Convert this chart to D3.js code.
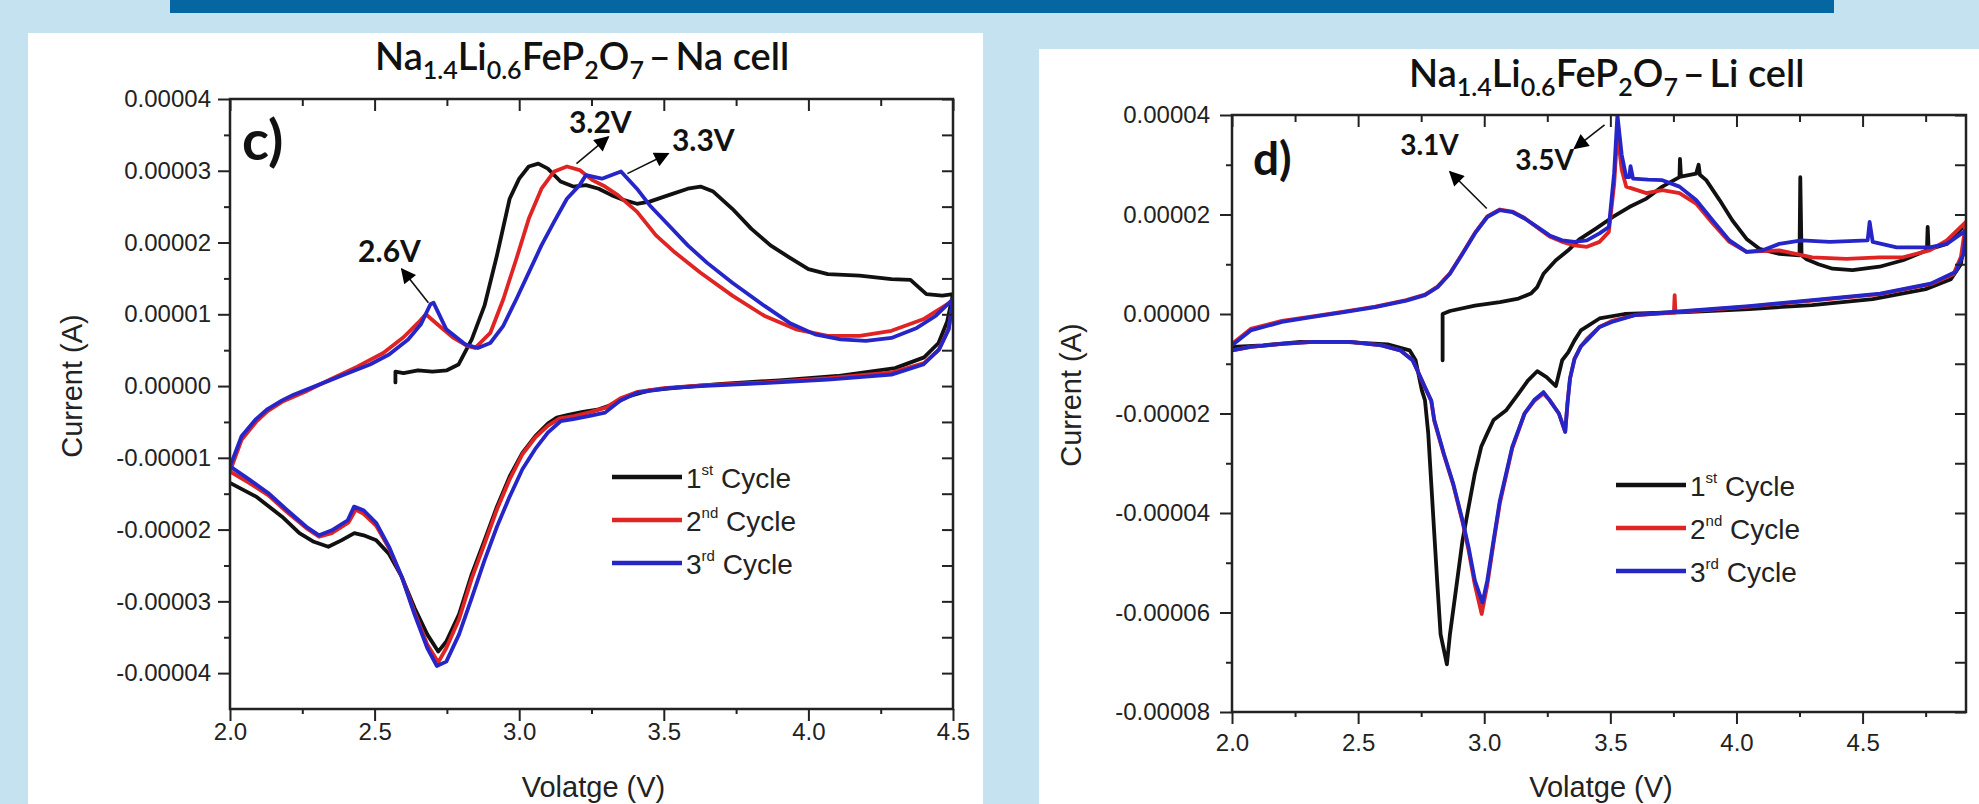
<!DOCTYPE html>
<html>
<head>
<meta charset="utf-8">
<script src="https://cdn.jsdelivr.net/npm/d3@7"></script>
<style>
html, body { margin: 0; padding: 0; background: #c5e2f1; overflow: hidden; }
svg { display: block; }
</style>
</head>
<body>
<svg id="main" width="1979" height="804"></svg>
<script>
// voltage in V, current in units of 1e-5 A

// ---- Na cell (panel c) ----
const naCycle1 = [
    [2.572, 0.05], [2.572, 0.2], [2.60, 0.18], [2.65, 0.22], [2.70, 0.2], [2.75, 0.22], [2.79, 0.3],
    [2.836, 0.65], [2.88, 1.12], [2.923, 1.82], [2.967, 2.61], [3.0, 2.89], [3.033, 3.06], [3.066, 3.1],
    [3.099, 3.03], [3.143, 2.85], [3.187, 2.78], [3.231, 2.8], [3.275, 2.75], [3.319, 2.66], [3.363, 2.59],
    [3.407, 2.54], [3.451, 2.57], [3.517, 2.66], [3.583, 2.75], [3.627, 2.78], [3.671, 2.71], [3.737, 2.47],
    [3.803, 2.19], [3.869, 1.96], [3.935, 1.79], [4.0, 1.63], [4.067, 1.56], [4.177, 1.54], [4.287, 1.49],
    [4.353, 1.48], [4.375, 1.4], [4.408, 1.28], [4.463, 1.26], [4.5, 1.28],
    [4.48, 0.9], [4.45, 0.6], [4.40, 0.4], [4.30, 0.25], [4.10, 0.14], [3.90, 0.08], [3.70, 0.03],
    [3.55, -0.02], [3.45, -0.06], [3.38, -0.14], [3.32, -0.26], [3.27, -0.33], [3.22, -0.36], [3.17, -0.4],
    [3.13, -0.44], [3.10, -0.52], [3.055, -0.7], [3.011, -0.93], [2.967, -1.26], [2.923, -1.68], [2.88, -2.15],
    [2.836, -2.62], [2.792, -3.18], [2.748, -3.56], [2.72, -3.7], [2.682, -3.46], [2.638, -3.09], [2.594, -2.66],
    [2.55, -2.34], [2.506, -2.15], [2.462, -2.08], [2.43, -2.05], [2.385, -2.15], [2.34, -2.24], [2.29, -2.17],
    [2.24, -2.05], [2.18, -1.82], [2.09, -1.54], [2.0, -1.35]
];
const naCycle2 = [
    [2.0, -1.19], [2.04, -0.75], [2.09, -0.5], [2.13, -0.35], [2.18, -0.22], [2.26, -0.08], [2.35, 0.1],
    [2.44, 0.27], [2.53, 0.46], [2.60, 0.68], [2.65, 0.88], [2.677, 1.0], [2.72, 0.85], [2.77, 0.68],
    [2.82, 0.56], [2.847, 0.53], [2.90, 0.74], [2.945, 1.21], [2.99, 1.77], [3.033, 2.33], [3.077, 2.75],
    [3.121, 2.99], [3.165, 3.06], [3.209, 3.01], [3.253, 2.87], [3.297, 2.78], [3.341, 2.66], [3.407, 2.43],
    [3.473, 2.1], [3.539, 1.86], [3.627, 1.58], [3.737, 1.26], [3.847, 0.98], [3.957, 0.79], [4.067, 0.7],
    [4.177, 0.7], [4.287, 0.77], [4.397, 0.93], [4.5, 1.19],
    [4.485, 0.8], [4.45, 0.5], [4.40, 0.32], [4.29, 0.19], [4.07, 0.11], [3.85, 0.05], [3.63, 0.01],
    [3.50, -0.03], [3.41, -0.08], [3.35, -0.17], [3.30, -0.3], [3.24, -0.37], [3.19, -0.42], [3.14, -0.45],
    [3.10, -0.55], [3.055, -0.72], [3.011, -0.95], [2.967, -1.3], [2.923, -1.72], [2.88, -2.2], [2.836, -2.68],
    [2.792, -3.25], [2.748, -3.65], [2.72, -3.85], [2.682, -3.6], [2.638, -3.15], [2.594, -2.66], [2.55, -2.26],
    [2.506, -1.95], [2.462, -1.78], [2.435, -1.72], [2.41, -1.9], [2.352, -2.05], [2.308, -2.1], [2.264, -1.98],
    [2.198, -1.76], [2.132, -1.52], [2.066, -1.35], [2.0, -1.19]
];
const naCycle3 = [
    [2.0, -1.12], [2.04, -0.7], [2.09, -0.46], [2.13, -0.32], [2.18, -0.2], [2.22, -0.12], [2.308, 0.02],
    [2.396, 0.16], [2.484, 0.3], [2.55, 0.44], [2.616, 0.65], [2.66, 0.86], [2.693, 1.14], [2.704, 1.16],
    [2.748, 0.79], [2.814, 0.58], [2.857, 0.53], [2.90, 0.6], [2.945, 0.84], [2.99, 1.21], [3.033, 1.58],
    [3.077, 1.96], [3.121, 2.29], [3.165, 2.61], [3.209, 2.8], [3.231, 2.94], [3.286, 2.89], [3.352, 2.99],
    [3.407, 2.75], [3.451, 2.52], [3.517, 2.24], [3.583, 1.96], [3.649, 1.72], [3.737, 1.44], [3.847, 1.12],
    [3.935, 0.88], [4.023, 0.72], [4.111, 0.65], [4.199, 0.63], [4.287, 0.67], [4.375, 0.81], [4.441, 0.98],
    [4.5, 1.21],
    [4.485, 0.79], [4.452, 0.51], [4.397, 0.3], [4.287, 0.16], [4.067, 0.09], [3.847, 0.04], [3.627, 0.0],
    [3.517, -0.03], [3.41, -0.09], [3.35, -0.2], [3.297, -0.37], [3.24, -0.42], [3.187, -0.46], [3.143, -0.49],
    [3.099, -0.65], [3.055, -0.88], [3.011, -1.16], [2.967, -1.54], [2.923, -1.96], [2.88, -2.43], [2.836, -2.95],
    [2.792, -3.46], [2.748, -3.84], [2.715, -3.9], [2.682, -3.65], [2.638, -3.18], [2.594, -2.66], [2.55, -2.24],
    [2.506, -1.91], [2.462, -1.73], [2.429, -1.68], [2.407, -1.87], [2.352, -2.01], [2.308, -2.08], [2.264, -1.96],
    [2.198, -1.73], [2.132, -1.49], [2.066, -1.3], [2.0, -1.12]
];

// ---- Li cell (panel d) ----
const liCycle1 = [
    [2.835, -0.93], [2.835, 0.0], [2.864, 0.06], [2.963, 0.17], [3.062, 0.24], [3.136, 0.31], [3.185, 0.41],
    [3.21, 0.54], [3.235, 0.81], [3.284, 1.08], [3.333, 1.28], [3.377, 1.5], [3.444, 1.72], [3.51, 1.95],
    [3.575, 2.15], [3.643, 2.32], [3.706, 2.56], [3.774, 2.75], [3.776, 3.12], [3.78, 2.76], [3.84, 2.82],
    [3.85, 3.0], [3.855, 2.8], [3.88, 2.69], [3.933, 2.29], [3.984, 1.88], [4.04, 1.51], [4.091, 1.31],
    [4.17, 1.21], [4.25, 1.18], [4.253, 2.75], [4.258, 1.18], [4.278, 1.1], [4.325, 1.0], [4.381, 0.91],
    [4.46, 0.88], [4.567, 0.95], [4.66, 1.08], [4.755, 1.28], [4.758, 1.75], [4.762, 1.3], [4.834, 1.41],
    [4.91, 1.82],
    [4.89, 1.0], [4.85, 0.7], [4.75, 0.5], [4.54, 0.3], [4.30, 0.18], [4.05, 0.1], [3.80, 0.04], [3.556, 0.0],
    [3.457, -0.09], [3.383, -0.33], [3.358, -0.53], [3.333, -0.77], [3.309, -0.93], [3.296, -1.2], [3.284, -1.45],
    [3.247, -1.27], [3.21, -1.15], [3.173, -1.34], [3.136, -1.6], [3.086, -1.94], [3.037, -2.13], [3.012, -2.4],
    [2.988, -2.67], [2.963, -3.2], [2.938, -3.88], [2.914, -4.55], [2.889, -5.5], [2.864, -6.44], [2.852, -7.04],
    [2.827, -6.44], [2.815, -5.5], [2.802, -4.42], [2.79, -3.41], [2.778, -2.4], [2.765, -1.73], [2.753, -1.54],
    [2.728, -0.93], [2.704, -0.73], [2.617, -0.61], [2.444, -0.56], [2.272, -0.56], [2.124, -0.63], [2.0, -0.66]
];
const liCycle2 = [
    [2.0, -0.6], [2.074, -0.3], [2.198, -0.14], [2.321, -0.05], [2.444, 0.05], [2.568, 0.15], [2.691, 0.28],
    [2.765, 0.39], [2.815, 0.55], [2.864, 0.82], [2.914, 1.22], [2.963, 1.63], [3.012, 1.96], [3.062, 2.1],
    [3.111, 2.06], [3.16, 1.93], [3.21, 1.74], [3.259, 1.56], [3.309, 1.45], [3.358, 1.38], [3.407, 1.35],
    [3.457, 1.45], [3.494, 1.65], [3.515, 2.6], [3.528, 3.64], [3.545, 2.9], [3.563, 2.56], [3.643, 2.43],
    [3.706, 2.49], [3.774, 2.43], [3.84, 2.22], [3.906, 1.82], [3.972, 1.45], [4.04, 1.25], [4.17, 1.28],
    [4.30, 1.14], [4.436, 1.11], [4.567, 1.14], [4.66, 1.14], [4.766, 1.28], [4.834, 1.48], [4.91, 1.85],
    [4.89, 1.15], [4.86, 0.8], [4.77, 0.6], [4.57, 0.4], [4.30, 0.27], [4.05, 0.15], [3.80, 0.05],
    [3.752, 0.04], [3.755, 0.38], [3.758, 0.03], [3.6, -0.02], [3.506, -0.14], [3.457, -0.26], [3.407, -0.5],
    [3.383, -0.65], [3.358, -0.9], [3.34, -1.3], [3.33, -1.8], [3.321, -2.37], [3.296, -2.0], [3.259, -1.73],
    [3.235, -1.6], [3.198, -1.75], [3.16, -2.0], [3.111, -2.7], [3.062, -3.8], [3.037, -4.6], [3.012, -5.45],
    [2.99, -6.03], [2.963, -5.45], [2.938, -4.75], [2.914, -4.18], [2.877, -3.43], [2.84, -2.83], [2.802, -2.15],
    [2.79, -1.75], [2.765, -1.48], [2.741, -1.2], [2.716, -0.93], [2.667, -0.73], [2.593, -0.63], [2.469, -0.56],
    [2.321, -0.56], [2.198, -0.6], [2.074, -0.66], [2.0, -0.73]
];
const liCycle3 = [
    [2.0, -0.63], [2.074, -0.33], [2.198, -0.16], [2.321, -0.06], [2.444, 0.04], [2.568, 0.14], [2.691, 0.27],
    [2.765, 0.38], [2.815, 0.54], [2.864, 0.81], [2.914, 1.21], [2.963, 1.62], [3.012, 1.95], [3.062, 2.09],
    [3.111, 2.05], [3.16, 1.92], [3.21, 1.75], [3.259, 1.58], [3.309, 1.48], [3.358, 1.45], [3.407, 1.48],
    [3.457, 1.62], [3.494, 1.75], [3.515, 2.83], [3.528, 4.0], [3.545, 3.2], [3.563, 2.75], [3.575, 2.75],
    [3.58, 2.97], [3.59, 2.72], [3.65, 2.7], [3.706, 2.69], [3.774, 2.56], [3.84, 2.29], [3.906, 1.88],
    [3.972, 1.48], [4.04, 1.25], [4.104, 1.28], [4.17, 1.41], [4.258, 1.48], [4.37, 1.45], [4.52, 1.48],
    [4.528, 1.85], [4.54, 1.45], [4.635, 1.34], [4.766, 1.34], [4.834, 1.41], [4.91, 1.68],
    [4.90, 1.2], [4.87, 0.85], [4.77, 0.61], [4.57, 0.41], [4.30, 0.28], [4.05, 0.16], [3.80, 0.06],
    [3.6, -0.02], [3.506, -0.16], [3.457, -0.26], [3.407, -0.53], [3.383, -0.65], [3.358, -0.9], [3.34, -1.3],
    [3.33, -1.8], [3.321, -2.37], [3.296, -2.0], [3.259, -1.73], [3.235, -1.57], [3.198, -1.73], [3.16, -2.0],
    [3.111, -2.67], [3.062, -3.75], [3.037, -4.55], [3.012, -5.36], [2.993, -5.8], [2.963, -5.36], [2.938, -4.69],
    [2.914, -4.15], [2.877, -3.41], [2.84, -2.81], [2.802, -2.13], [2.79, -1.74], [2.765, -1.47], [2.741, -1.2],
    [2.716, -0.93], [2.667, -0.73], [2.593, -0.63], [2.469, -0.56], [2.321, -0.56], [2.198, -0.6], [2.074, -0.66],
    [2.0, -0.73]
];

const cycleNames = [["1", "st"], ["2", "nd"], ["3", "rd"]];
const cycleColors = ["#111111", "#e02424", "#2626c8"];
const xTicks = [2.0, 2.5, 3.0, 3.5, 4.0, 4.5];
const naXMinor = [2.25, 2.75, 3.25, 3.75, 4.25];
const liXMinor = [2.25, 2.75, 3.25, 3.75, 4.25, 4.75];
const naYTicks = [-4, -3, -2, -1, 0, 1, 2, 3, 4];
const naYMinor = [-3.5, -2.5, -1.5, -0.5, 0.5, 1.5, 2.5, 3.5];
const liYTicks = [-8, -6, -4, -2, 0, 2, 4];
const liYMinor = [-7, -5, -3, -1, 1, 3];
const naNotes = [
    { text: "2.6V", at: [2.443, 1.73], from: [2.686, 1.16], to: [2.594, 1.63] },
    { text: "3.2V", at: [3.172, 3.52], from: [3.198, 3.10], to: [3.308, 3.47] },
    { text: "3.3V", at: [3.528, 3.27], from: [3.374, 2.96], to: [3.515, 3.24] }
];
const liNotes = [
    { text: "3.1V", at: [2.667, 3.19], from: [3.01, 2.12], to: [2.864, 2.86] },
    { text: "3.5V", at: [3.123, 2.89], from: [3.477, 3.8], to: [3.358, 3.33] }
];

const svg = d3.select("#main");
const W = 1979, H = 804;
const tickFont = "'Liberation Sans', Arial, sans-serif";
const titleFont = "Lato, 'Open Sans', sans-serif";

svg.append("rect").attr("width", W).attr("height", H).attr("fill", "#c5e2f1");
svg.append("rect").attr("x", 170).attr("y", 0).attr("width", 1664).attr("height", 13).attr("fill", "#0567a1");

const defs = svg.append("defs");
defs.append("marker")
    .attr("id", "head")
    .attr("viewBox", "0 0 10 10")
    .attr("refX", 9)
    .attr("refY", 5)
    .attr("markerUnits", "userSpaceOnUse")
    .attr("markerWidth", 18)
    .attr("markerHeight", 15)
    .attr("orient", "auto")
    .append("path")
    .attr("d", "M0,0 L10,5 L0,10 z")
    .attr("fill", "#000");

const panels = [
    {
        id: "na", box: [28, 33, 955, 780], left: 230, right: 953, top: 99, bottom: 709,
        xDomain: [2, 4.5], yDomain: [-4.5, 4], xMinor: naXMinor, yTicks: naYTicks, yMinor: naYMinor,
        series: [naCycle1, naCycle2, naCycle3], notes: naNotes, noteSize: 30,
        cell: "Na cell", titleX: 375, titleY: 70,
        letter: "c)", letterX: 242, letterY: 160, letterSize: 56,
        yPad: 7, xPad: 2, ylabX: 72, ylabY: 386,
        legendX: 612, legendY: 477
    },
    {
        id: "li", box: [1039, 49, 960, 780], left: 1232, right: 1966, top: 115, bottom: 712,
        xDomain: [2, 4.91], yDomain: [-8, 4], xMinor: liXMinor, yTicks: liYTicks, yMinor: liYMinor,
        series: [liCycle1, liCycle2, liCycle3], notes: liNotes, noteSize: 28,
        cell: "Li cell", titleX: 1409, titleY: 87,
        letter: "d)", letterX: 1253, letterY: 175, letterSize: 46,
        yPad: 10, xPad: 10, ylabX: 1071, ylabY: 395,
        legendX: 1616, legendY: 485
    }
];

panels.forEach(drawPanel);

function drawPanel(p) {
    const g = svg.append("g");
    g.append("rect")
        .attr("x", p.box[0]).attr("y", p.box[1])
        .attr("width", p.box[2]).attr("height", p.box[3])
        .attr("fill", "#ffffff");

    const x = d3.scaleLinear().domain(p.xDomain).range([p.left, p.right]);
    const y = d3.scaleLinear().domain(p.yDomain).range([p.bottom, p.top]);

    defs.append("clipPath").attr("id", "clip-" + p.id)
        .append("rect")
        .attr("x", p.left).attr("y", p.top)
        .attr("width", p.right - p.left).attr("height", p.bottom - p.top);

    const line = d3.line().x(d => x(d[0])).y(d => y(d[1]));

    g.append("g")
        .attr("clip-path", "url(#clip-" + p.id + ")")
        .selectAll("path")
        .data(p.series)
        .join("path")
        .attr("d", d => line(d))
        .attr("fill", "none")
        .attr("stroke", (d, i) => cycleColors[i])
        .attr("stroke-width", 3.8)
        .attr("stroke-linejoin", "round")
        .attr("stroke-linecap", "round");

    // axes
    const fmtY = d => (d * 1e-5).toFixed(5);
    const fmtX = d3.format(".1f");
    const axes = [
        [d3.axisBottom(x).tickValues(xTicks).tickSize(12).tickPadding(p.xPad).tickFormat(fmtX), p.bottom, 0],
        [d3.axisBottom(x).tickValues(p.xMinor).tickSize(5).tickFormat(""), p.bottom, 0],
        [d3.axisTop(x).tickValues(xTicks).tickSize(-12).tickFormat(""), p.top, 0],
        [d3.axisTop(x).tickValues(p.xMinor).tickSize(-7).tickFormat(""), p.top, 0],
        [d3.axisLeft(y).tickValues(p.yTicks).tickSize(12).tickPadding(p.yPad).tickFormat(fmtY), 0, p.left],
        [d3.axisLeft(y).tickValues(p.yMinor).tickSize(6).tickFormat(""), 0, p.left],
        [d3.axisRight(y).tickValues(p.yTicks).tickSize(-11).tickFormat(""), 0, p.right],
        [d3.axisRight(y).tickValues(p.yMinor).tickSize(-11).tickFormat(""), 0, p.right]
    ];
    axes.forEach(([ax, ty, tx]) => {
        const a = g.append("g")
            .attr("transform", "translate(" + tx + "," + ty + ")")
            .call(ax);
        a.select(".domain").remove();
        a.selectAll("line").attr("stroke", "#222").attr("stroke-width", 2);
        a.selectAll("text")
            .attr("font-family", tickFont)
            .attr("font-size", 24)
            .attr("fill", "#222");
    });

    g.append("rect")
        .attr("x", p.left).attr("y", p.top)
        .attr("width", p.right - p.left).attr("height", p.bottom - p.top)
        .attr("fill", "none")
        .attr("stroke", "#222")
        .attr("stroke-width", 2.5);

    // axis titles
    g.append("text")
        .attr("x", (p.left + p.right) / 2 + 2)
        .attr("y", 797)
        .attr("text-anchor", "middle")
        .attr("font-family", tickFont)
        .attr("font-size", 29)
        .attr("fill", "#222")
        .text("Volatge (V)");

    g.append("text")
        .attr("transform", "translate(" + p.ylabX + "," + p.ylabY + ") rotate(-90)")
        .attr("dy", "0.35em")
        .attr("text-anchor", "middle")
        .attr("font-family", tickFont)
        .attr("font-size", 29)
        .attr("fill", "#222")
        .text("Current (A)");

    // chart title with subscripts
    const title = g.append("text")
        .attr("x", p.titleX)
        .attr("y", p.titleY)
        .attr("font-family", titleFont)
        .attr("font-weight", 600)
        .attr("font-size", 38)
        .attr("fill", "#111");
    const parts = [["Na", 0], ["1.4", 1], ["Li", 0], ["0.6", 1], ["FeP", 0], ["2", 1], ["O", 0], ["7", 1], ["\u2009\u2013\u2009" + p.cell, 0]];
    parts.forEach(([s, sub], i) => {
        const prevSub = i > 0 ? parts[i - 1][1] : 0;
        let dy = 0;
        if (sub && !prevSub) dy = 9;
        if (!sub && prevSub) dy = -9;
        title.append("tspan")
            .attr("dy", dy)
            .attr("font-size", sub ? 25 : 38)
            .text(s);
    });

    g.append("text")
        .attr("x", p.letterX)
        .attr("y", p.letterY)
        .attr("font-family", titleFont)
        .attr("font-weight", 700)
        .attr("font-size", p.letterSize)
        .attr("fill", "#111")
        .text(p.letter);

    // peak annotations
    p.notes.forEach(n => {
        g.append("line")
            .attr("x1", x(n.from[0])).attr("y1", y(n.from[1]))
            .attr("x2", x(n.to[0])).attr("y2", y(n.to[1]))
            .attr("stroke", "#111")
            .attr("stroke-width", 1.6)
            .attr("marker-end", "url(#head)");
        g.append("text")
            .attr("x", x(n.at[0]))
            .attr("y", y(n.at[1]))
            .attr("font-family", titleFont)
            .attr("font-weight", 700)
            .attr("font-size", p.noteSize)
            .attr("fill", "#111")
            .text(n.text);
    });

    // legend
    const leg = g.append("g");
    cycleNames.forEach((c, i) => {
        const ly = p.legendY + i * 43;
        leg.append("line")
            .attr("x1", p.legendX).attr("x2", p.legendX + 70)
            .attr("y1", ly).attr("y2", ly)
            .attr("stroke", cycleColors[i])
            .attr("stroke-width", 4.5);
        const t = leg.append("text")
            .attr("x", p.legendX + 74)
            .attr("y", ly + 11)
            .attr("font-family", tickFont)
            .attr("font-size", 28)
            .attr("fill", "#222");
        t.append("tspan").text(c[0]);
        t.append("tspan").attr("dy", -13).attr("font-size", 15).text(c[1]);
        t.append("tspan").attr("dy", 13).text(" Cycle");
    });
}
</script>
</body>
</html>
